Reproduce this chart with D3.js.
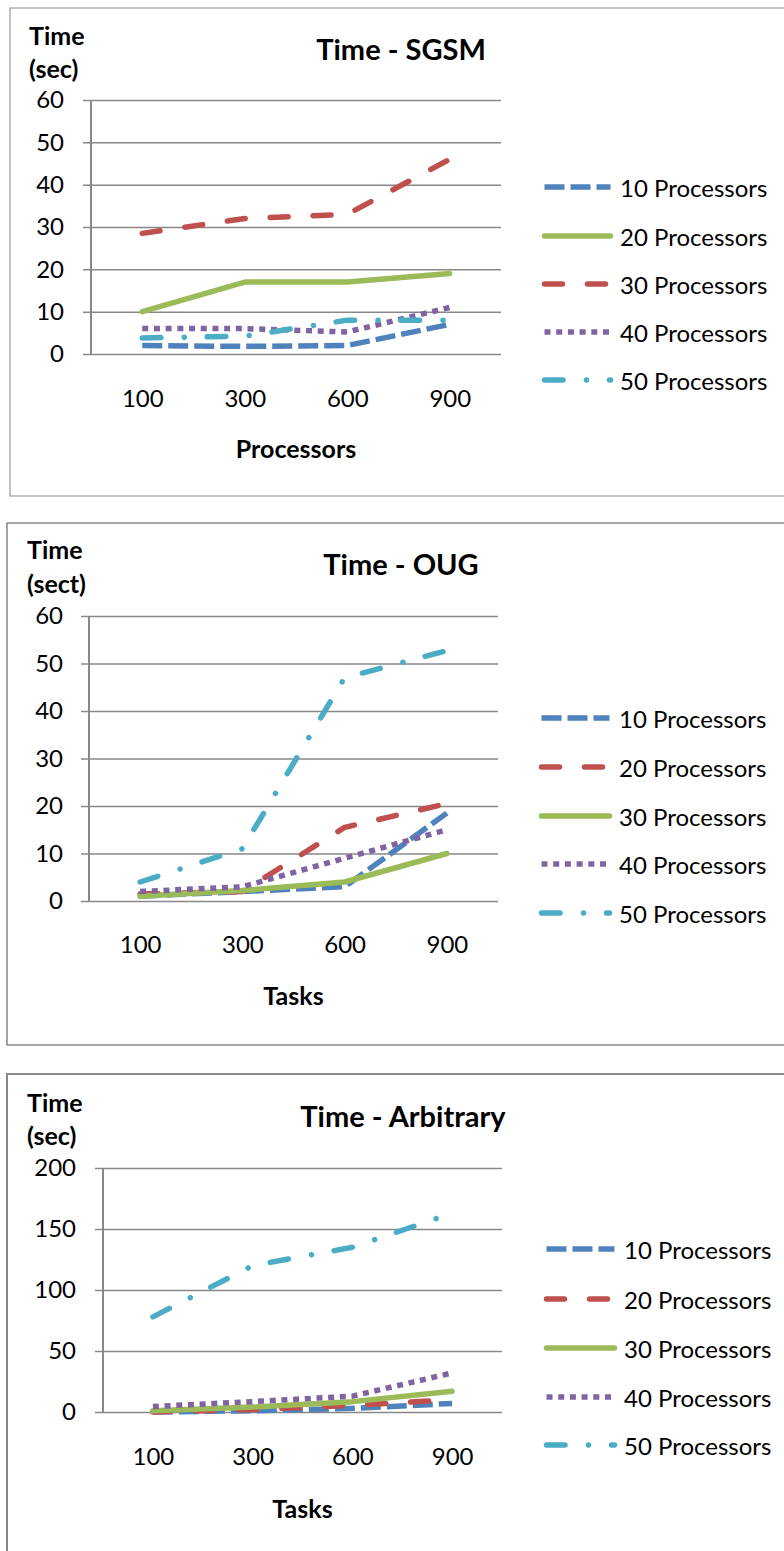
<!DOCTYPE html>
<html>
<head>
<meta charset="utf-8">
<script src="https://cdn.jsdelivr.net/npm/d3@7"></script>
<style>
  body { margin: 0; background: #fff; }
  text { font-family: Lato, "Open Sans", sans-serif; fill: #000; }
</style>
</head>
<body>
<div id="charts"></div>
<script>
/***********************************************************************/
// data
const taskLabels = ['100', '300', '600', '900'];

// Time - SGSM
const sgsmNames = ['10 Processors', '20 Processors', '30 Processors', '40 Processors', '50 Processors'];
const sgsmStyles = ['blue', 'green', 'red', 'purple', 'cyan'];
const sgsm10 = [2, 1.8, 2, 7];
const sgsm20 = [10, 17, 17, 19];
const sgsm30 = [28.5, 32, 33, 46];
const sgsm40 = [6, 6, 5.2, 11];
const sgsm50 = [3.8, 4.2, 8, 8];
const sgsmTicks = [0, 10, 20, 30, 40, 50, 60];

// Time - OUG
const ougNames = ['10 Processors', '20 Processors', '30 Processors', '40 Processors', '50 Processors'];
const ougStyles = ['blue', 'red', 'green', 'purple', 'cyan'];
const oug10 = [1, 2, 3, 18.5];
const oug20 = [1.5, 2, 15.5, 20.5];
const oug30 = [1, 2.2, 4, 10];
const oug40 = [2, 3, 9, 15];
const oug50 = [4, 11, 47, 52.7];
const ougTicks = [0, 10, 20, 30, 40, 50, 60];

// Time - Arbitrary
const arbNames = ['10 Processors', '20 Processors', '30 Processors', '40 Processors', '50 Processors'];
const arbStyles = ['blue', 'red', 'green', 'purple', 'cyan'];
const arb10 = [0, 1, 3, 7];
const arb20 = [0, 2, 5.5, 10];
const arb30 = [1, 4, 8.5, 17];
const arb40 = [4.5, 8.5, 13, 32];
const arb50 = [78, 120, 135, 163];
const arbTicks = [0, 50, 100, 150, 200];

/***********************************************************************/
// line styles (excel-ish)
const lineStyles = {
  blue:   { color: '#4F81BD', dash: '20,6', cap: 'butt' },
  red:    { color: '#C0504D', dash: '18,25', cap: 'round' },
  green:  { color: '#9BBB59', dash: null, cap: 'round' },
  purple: { color: '#8064A2', dash: '6,5.7', cap: 'butt' },
  cyan:   { color: '#4BACC6', dash: '18.5,23.5,0.01,23', cap: 'round' }
};
const gridColor = '#888888';
const lineWidth = 5.5;
const labelSize = 24;
const axisTitleSize = 25;
const titleSize = 29;

const svg = d3.select('#charts')
  .append('svg')
  .attr('width', 784)
  .attr('height', 1551);

// chart layouts
const charts = [
  {
    title: 'Time - SGSM', yTitle: ['Time', '(sec)'], xTitle: 'Processors',
    names: sgsmNames, styles: sgsmStyles, series: [sgsm10, sgsm20, sgsm30, sgsm40, sgsm50], ticks: sgsmTicks,
    frame: { x: 10, y: 8, h: 488, w: 1 },
    plot: { left: 91, right: 501, top: 100, bottom: 354 },
    yLabelX: 64, yTitleX: 29, yTitleY: [35, 68], titleX: 401, titleY: 48,
    xTickY: 397, xTitleY: 448,
    legend: { x1: 542, x2: 613, tx: 620, ys: [187, 236, 284, 332, 380] }
  },
  {
    title: 'Time - OUG', yTitle: ['Time', '(sect)'], xTitle: 'Tasks',
    names: ougNames, styles: ougStyles, series: [oug10, oug20, oug30, oug40, oug50], ticks: ougTicks,
    frame: { x: 7, y: 523, h: 522, w: 1.5 },
    plot: { left: 89, right: 498, top: 616, bottom: 901 },
    yLabelX: 63, yTitleX: 27, yTitleY: [549, 583], titleX: 401, titleY: 563,
    xTickY: 943, xTitleY: 995,
    legend: { x1: 539, x2: 612, tx: 619, ys: [718, 767, 816, 864, 913] }
  },
  {
    title: 'Time - Arbitrary', yTitle: ['Time', '(sec)'], xTitle: 'Tasks',
    names: arbNames, styles: arbStyles, series: [arb10, arb20, arb30, arb40, arb50], ticks: arbTicks,
    frame: { x: 7, y: 1074, h: 600, w: 2 },
    plot: { left: 103, right: 502, top: 1168, bottom: 1412 },
    yLabelX: 76, yTitleX: 27, yTitleY: [1102, 1135], titleX: 403, titleY: 1115,
    xTickY: 1455, xTitleY: 1508,
    legend: { x1: 544, x2: 617, tx: 624, ys: [1249, 1299, 1348, 1397, 1445] }
  }
];

charts.forEach(drawChart);

/***********************************************************************/
function styleLine(sel, key) {
  const s = lineStyles[key];
  sel.attr('fill', 'none')
    .attr('stroke', s.color)
    .attr('stroke-width', lineWidth)
    .attr('stroke-linecap', s.cap)
    .attr('stroke-linejoin', 'round')
    .attr('stroke-dasharray', s.dash);
}

function drawChart(c) {
  const g = svg.append('g');
  const p = c.plot;

  // frame
  g.append('rect')
    .attr('x', c.frame.x).attr('y', c.frame.y)
    .attr('width', 900).attr('height', c.frame.h)
    .attr('fill', 'none').attr('stroke', gridColor).attr('stroke-width', c.frame.w);

  const x = d3.scalePoint().domain(taskLabels).range([p.left, p.right]).padding(0.5);
  const y = d3.scaleLinear().domain([0, d3.max(c.ticks)]).range([p.bottom, p.top]);

  // gridlines + y labels
  const yAxis = d3.axisLeft(y)
    .tickValues(c.ticks)
    .tickSizeInner(-(p.right - p.left + 8))
    .tickSizeOuter(0)
    .tickPadding(p.left - 8 - c.yLabelX);
  const ya = g.append('g')
    .attr('transform', `translate(${p.left - 8},0)`)
    .call(yAxis);
  ya.select('.domain').remove();
  ya.selectAll('line').attr('stroke', gridColor).attr('stroke-width', 1.5);
  ya.selectAll('text')
    .attr('font-family', 'Lato, sans-serif')
    .attr('font-size', labelSize)
    .attr('fill', '#000');

  // vertical axis line
  g.append('line')
    .attr('x1', p.left).attr('x2', p.left)
    .attr('y1', p.top).attr('y2', p.bottom)
    .attr('stroke', gridColor).attr('stroke-width', 2);

  // x labels
  const xAxis = d3.axisBottom(x).tickSize(0).tickPadding(0);
  const xa = g.append('g')
    .attr('transform', `translate(0,${c.xTickY})`)
    .call(xAxis);
  xa.select('.domain').remove();
  xa.selectAll('text')
    .attr('dy', null)
    .attr('dominant-baseline', 'central')
    .attr('font-family', 'Lato, sans-serif')
    .attr('font-size', labelSize)
    .attr('fill', '#000');

  // series lines
  const line = d3.line()
    .x((d, i) => x(taskLabels[i]))
    .y(d => y(d));
  c.series.forEach((vals, i) => {
    g.append('path')
      .attr('d', line(vals))
      .call(styleLine, c.styles[i]);
  });

  // titles
  g.append('text')
    .attr('x', c.titleX).attr('y', c.titleY)
    .attr('text-anchor', 'middle').attr('dominant-baseline', 'central')
    .attr('font-size', titleSize).attr('font-weight', 'bold')
    .text(c.title);

  c.yTitle.forEach((t, i) => {
    g.append('text')
      .attr('x', c.yTitleX).attr('y', c.yTitleY[i])
      .attr('dominant-baseline', 'central')
      .attr('font-size', axisTitleSize).attr('font-weight', 'bold')
      .text(t);
  });

  g.append('text')
    .attr('x', (p.left + p.right) / 2).attr('y', c.xTitleY)
    .attr('text-anchor', 'middle').attr('dominant-baseline', 'central')
    .attr('font-size', axisTitleSize).attr('font-weight', 'bold')
    .text(c.xTitle);

  // legend
  const lg = g.append('g');
  c.names.forEach((name, i) => {
    const ly = c.legend.ys[i];
    lg.append('line')
      .attr('x1', c.legend.x1 + 2.5).attr('x2', c.legend.x2 - 2.5)
      .attr('y1', ly).attr('y2', ly)
      .call(styleLine, c.styles[i]);
    lg.append('text')
      .attr('x', c.legend.tx).attr('y', ly)
      .attr('dominant-baseline', 'central')
      .attr('font-size', labelSize)
      .text(name);
  });
}
</script>
</body>
</html>
